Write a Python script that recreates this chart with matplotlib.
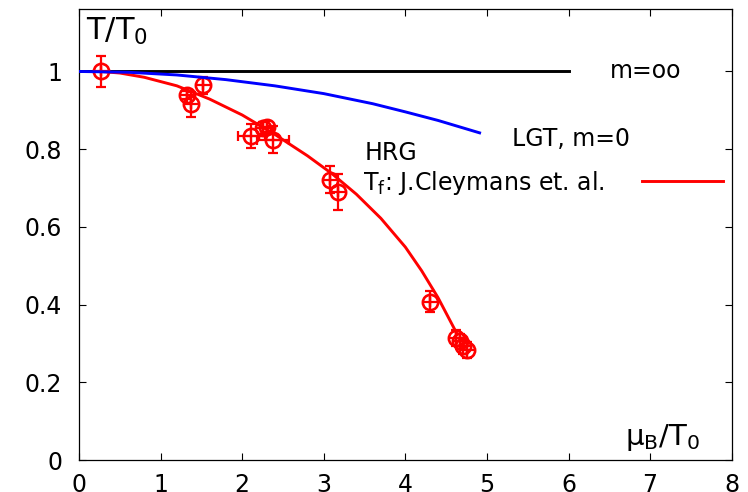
import matplotlib
matplotlib.use("Agg")
import matplotlib.pyplot as plt
from matplotlib.ticker import FuncFormatter, MultipleLocator

# freeze-out points (mu_B/T0, T/T0)
mu_pts = [0.27, 1.32, 1.37, 1.52, 2.11, 2.26, 2.30, 2.38, 3.08, 3.17, 4.30, 4.62, 4.67, 4.71, 4.75]
t_pts = [1.0, 0.939, 0.916, 0.965, 0.834, 0.854, 0.858, 0.824, 0.721, 0.690, 0.407, 0.314, 0.305, 0.294, 0.283]
t_err = [0.041, 0.01, 0.032, 0.022, 0.03, 0.015, 0.015, 0.035, 0.035, 0.046, 0.027, 0.02, 0.02, 0.02, 0.02]
mu_err = [0, 0, 0, 0, 0.165, 0, 0, 0.2, 0, 0, 0, 0, 0, 0, 0]

# HRG curve (Cleymans et al.)
hrg_mu = [0.26, 0.5, 0.8, 1.2, 1.6, 2.0, 2.4, 2.8, 3.1, 3.4, 3.7, 4.0, 4.2, 4.4, 4.63]
hrg_t = [1.0, 0.996, 0.985, 0.963, 0.929, 0.888, 0.838, 0.783, 0.737, 0.684, 0.622, 0.548, 0.487, 0.418, 0.326]

# lattice, m=0
lgt_mu = [0, 0.6, 1.2, 1.8, 2.4, 3.0, 3.6, 4.0, 4.4, 4.91]
lgt_t = [1.0, 0.998, 0.991, 0.979, 0.963, 0.943, 0.917, 0.896, 0.874, 0.842]

# m = infinity
inf_mu = [0, 6]
inf_t = [1, 1]

red = (1, 0, 0)
blue = (0, 0, 1)

fig = plt.figure(figsize=(7.48, 4.92), dpi=100)
ax = fig.add_axes([79 / 748, 32 / 492, 652.7 / 748, 450.7 / 492])

ax.plot(inf_mu, inf_t, color='black', lw=2.1, zorder=2)
ax.plot(hrg_mu, hrg_t, color=red, lw=2.1, zorder=2, solid_joinstyle='round',
        label=r'T$_\mathregular{f}$: J.Cleymans et. al.')

ax.errorbar(mu_pts, t_pts, yerr=t_err, xerr=mu_err, fmt='none', ecolor=red,
            elinewidth=1.6, capsize=3.5, capthick=1.6, zorder=3)
ax.plot(mu_pts, t_pts, 'o', mfc='none', mec=red, ms=11, mew=1.9, zorder=3)
ax.plot(mu_pts, t_pts, '+', color=red, ms=11, mew=1.6, zorder=3)

ax.plot(lgt_mu, lgt_t, color=blue, lw=2.1, zorder=4, solid_joinstyle='round')

ax.set_xlim(0, 8)
ax.set_ylim(0, 1.16)
ax.xaxis.set_major_locator(MultipleLocator(1))
ax.yaxis.set_major_locator(MultipleLocator(0.2))
ax.yaxis.set_major_formatter(FuncFormatter(lambda v, p: '%g' % round(v, 2)))
ax.tick_params(direction='in', top=True, right=True, length=5, width=0.8, labelsize=17)
ax.tick_params(axis='x', pad=9)
ax.tick_params(axis='y', pad=12)
for s in ax.spines.values():
    s.set_linewidth(0.9)

ax.text(0.086, 1.081, r'T/T$_\mathregular{0}$', fontsize=22, va='baseline')
ax.text(6.69, 0.039, r'μ$_\mathregular{B}$/T$_\mathregular{0}$', fontsize=21, va='baseline')
ax.text(6.51, 0.983, 'm=oo', fontsize=17, va='baseline')
ax.text(5.31, 0.808, 'LGT, m=0', fontsize=17, va='baseline')
ax.text(3.50, 0.772, 'HRG', fontsize=17, va='baseline')

ax.legend(loc='center left', bbox_to_anchor=(3.48, 0.714), bbox_transform=ax.transData,
          frameon=False, markerfirst=False, fontsize=17, borderpad=0, borderaxespad=0,
          handlelength=3.4, handletextpad=1.6)

fig.savefig('out.png', dpi=100)
